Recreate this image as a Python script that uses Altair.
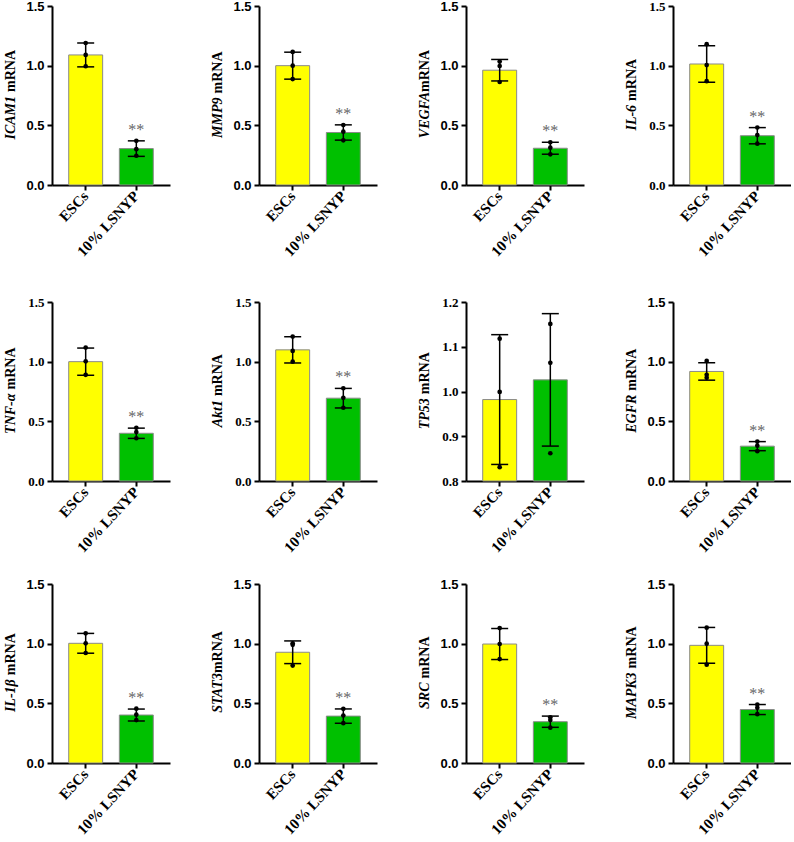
import altair as alt
import pandas as pd

genes = ["ICAM1", "MMP9", "VEGFA", "IL-6", "TNF-α", "Akt1",
         "TP53", "EGFR", "IL-1β", "STAT3", "SRC", "MAPK3"]
title_gap = [4, 4, 0, 4, 4, 4, 4, 4, 4, 0, 4, 4]
groups = ["ESCs", "10% LSNYP"]

esc_mean = [1.09, 1.00, 0.962, 1.014, 1.00, 1.099, 0.982, 0.918, 1.003, 0.928, 0.997, 0.986]
esc_sd = [0.10, 0.113, 0.09, 0.153, 0.114, 0.11, 0.145, 0.073, 0.083, 0.095, 0.13, 0.15]
esc_points = [
    [1.19, 1.09, 0.995], [1.115, 1.00, 0.888], [1.034, 0.997, 0.863], [1.18, 1.005, 0.87],
    [1.118, 1.003, 0.89], [1.21, 1.09, 1.00], [1.118, 0.999, 0.831], [1.006, 0.89, 0.865],
    [1.087, 1.003, 0.922], [1.003, 0.99, 0.816], [1.131, 0.997, 0.871], [1.134, 1.00, 0.824],
]
lsnyp_mean = [0.305, 0.44, 0.308, 0.413, 0.40, 0.694, 1.026, 0.292, 0.402, 0.393, 0.346, 0.448]
lsnyp_sd = [0.065, 0.064, 0.05, 0.068, 0.043, 0.082, 0.148, 0.038, 0.05, 0.06, 0.047, 0.042]
lsnyp_points = [
    [0.37, 0.30, 0.245], [0.503, 0.447, 0.374], [0.358, 0.313, 0.257], [0.482, 0.418, 0.346],
    [0.446, 0.41, 0.358], [0.777, 0.697, 0.614], [1.151, 1.064, 0.862], [0.33, 0.296, 0.25],
    [0.455, 0.405, 0.36], [0.454, 0.398, 0.334], [0.383, 0.36, 0.296], [0.49, 0.462, 0.409],
]
significance = ["**", "**", "**", "**", "**", "**", "", "**", "**", "**", "**", "**"]

y_min = [0, 0, 0, 0, 0, 0, 0.8, 0, 0, 0, 0, 0]
y_max = [1.5, 1.5, 1.5, 1.5, 1.5, 1.5, 1.2, 1.5, 1.5, 1.5, 1.5, 1.5]
ticks_main = [0.0, 0.5, 1.0, 1.5]
ticks_tp53 = [0.8, 0.9, 1.0, 1.1, 1.2]
tick_font = ["Liberation Sans", "Liberation Sans", "Liberation Sans", "Liberation Serif",
             "Liberation Serif", "Liberation Serif", "Liberation Serif", "Liberation Sans",
             "Liberation Sans", "Liberation Sans", "Liberation Sans", "Liberation Sans"]

colors = ["#FFFF00", "#00C000"]
W, H = 118, 179
TITLE_SIZE = 14

# approximate Times bold glyph widths (per 1000 em) to centre the two-part title
widths = {"A": 667, "B": 667, "C": 667, "D": 722, "E": 667, "F": 667, "G": 722, "I": 389,
          "K": 667, "L": 611, "M": 889, "N": 722, "P": 611, "R": 667, "S": 556, "T": 611,
          "V": 667, "k": 500, "t": 278, "m": 833, "-": 333, "α": 560, "β": 520}


def text_w(s):
    return sum(widths.get(c, 500) for c in s) * TITLE_SIZE / 1000.0


def panel(i):
    summ = pd.DataFrame({
        "group": groups,
        "mean": [esc_mean[i], lsnyp_mean[i]],
        "sd": [esc_sd[i], lsnyp_sd[i]],
        "sig": ["", significance[i]],
    })
    summ["lo"] = summ["mean"] - summ["sd"]
    summ["hi"] = summ["mean"] + summ["sd"]
    pts = pd.DataFrame({
        "group": [groups[0]] * 3 + [groups[1]] * 3,
        "value": esc_points[i] + lsnyp_points[i],
    })

    xenc = alt.X("group:N", sort=groups,
                 scale=alt.Scale(domain=groups, paddingInner=0.33, paddingOuter=0.33),
                 axis=alt.Axis(title=None, labelAngle=-47, labelAlign="right",
                               labelBaseline="middle", labelFont="Liberation Serif",
                               labelFontWeight="bold", labelFontSize=15, labelColor="black",
                               labelPadding=3, tickSize=5, tickWidth=2, tickColor="black",
                               domainWidth=2, domainColor="black", grid=False))
    yscale = alt.Scale(domain=[y_min[i], y_max[i]], zero=False, nice=False)
    yaxis = alt.Axis(title=None, values=ticks_tp53 if y_min[i] > 0 else ticks_main,
                     format=".1f", labelFont=tick_font[i], labelFontWeight="bold",
                     labelFontSize=13, labelColor="black", labelPadding=3,
                     tickSize=5, tickWidth=2, tickColor="black",
                     domainWidth=2, domainColor="black", grid=False)

    bars = alt.Chart(summ).mark_bar(stroke="#8a8a8a", strokeWidth=1).encode(
        x=xenc,
        y=alt.Y("mean:Q", scale=yscale, axis=yaxis),
        y2=alt.datum(y_min[i]),
        color=alt.Color("group:N", scale=alt.Scale(domain=groups, range=colors), legend=None),
    )
    rule = alt.Chart(summ).mark_rule(color="black", strokeWidth=1.5).encode(
        x=xenc, y=alt.Y("lo:Q", scale=yscale, axis=yaxis), y2="hi:Q")
    cap_hi = alt.Chart(summ).mark_tick(color="black", thickness=1.5, size=17, opacity=1).encode(
        x=xenc, y=alt.Y("hi:Q", scale=yscale, axis=yaxis))
    cap_lo = alt.Chart(summ).mark_tick(color="black", thickness=1.5, size=17, opacity=1).encode(
        x=xenc, y=alt.Y("lo:Q", scale=yscale, axis=yaxis))
    dots = alt.Chart(pts).mark_circle(color="black", size=22, opacity=1).encode(
        x=xenc, y=alt.Y("value:Q", scale=yscale, axis=yaxis))
    stars = alt.Chart(summ).mark_text(font="Liberation Serif", fontSize=16, color="#666666",
                                      baseline="bottom", dy=-3).encode(
        x=xenc, y=alt.Y("hi:Q", scale=yscale, axis=yaxis), text="sig:N")

    gene = genes[i]
    tail = "mRNA"
    gap = title_gap[i]
    wg, wt = text_w(gene), text_w(tail)
    anchor = H / 2 - (wg - wt) / 2
    t_gene = alt.Chart(pd.DataFrame({"t": [gene]})).mark_text(
        angle=270, align="right", baseline="middle", font="Liberation Serif",
        fontStyle="italic", fontWeight="bold", fontSize=TITLE_SIZE, color="black").encode(
        x=alt.value(-41), y=alt.value(anchor + gap / 2), text="t:N")
    t_tail = alt.Chart(pd.DataFrame({"t": [tail]})).mark_text(
        angle=270, align="left", baseline="middle", font="Liberation Serif",
        fontWeight="bold", fontSize=TITLE_SIZE, color="black").encode(
        x=alt.value(-41), y=alt.value(anchor - gap / 2), text="t:N")

    return alt.layer(bars, rule, cap_hi, cap_lo, dots, stars, t_gene, t_tail).properties(
        width=W, height=H)


rows = [alt.hconcat(*[panel(r * 4 + c) for c in range(4)], spacing=89, bounds="flush")
        for r in range(3)]

chart = alt.vconcat(
    alt.vconcat(rows[0], rows[1], spacing=34),
    rows[2],
    spacing=22,
).properties(
    padding={"left": 3, "top": 0, "right": 0, "bottom": 0},
    background="white",
).configure_view(stroke=None)

chart.save("out.html", embed_options={"renderer": "svg", "actions": False})
